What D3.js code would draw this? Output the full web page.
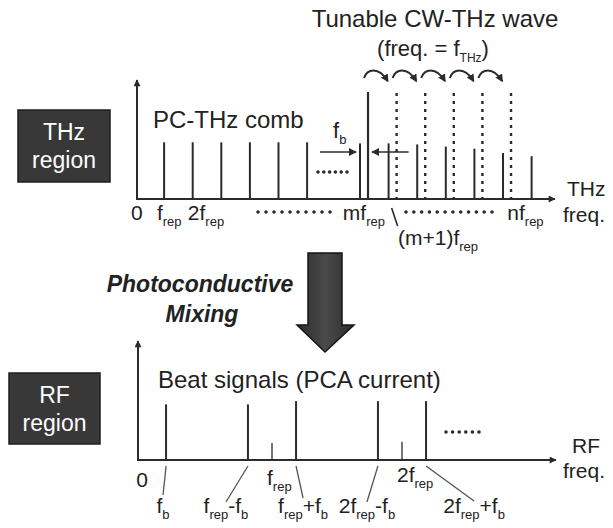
<!DOCTYPE html>
<html>
<head>
<meta charset="utf-8">
<script src="https://cdn.jsdelivr.net/npm/d3@7"></script>
<style>
  body { margin: 0; background: #fff; }
  text { font-family: "Liberation Sans", Arial, sans-serif; fill: #222; }
</style>
</head>
<body>
<div id="graph"></div>
<script>

// ---- data (positions in units of f_rep, amplitudes relative to CW line) ----

// THz comb lines: first six harmonics, then m, m+1, ... n (gap not to scale)
var combPos = [1, 2, 3, 4, 5, 6, 7.85, 8.85, 9.85, 10.85, 11.85, 12.85, 13.85];
var combAmp = [0.53, 0.53, 0.53, 0.53, 0.53, 0.53, 0.52, 0.52, 0.51, 0.49, 0.47, 0.43, 0.40];

// CW-THz wave: current position (solid) and tuned positions (dotted)
var cwPos = [8.13];
var cwAmp = [1.0];
var tunedPos = [9.13, 10.13, 11.13, 12.13, 13.13];
var tunedAmp = [0.99, 0.99, 0.99, 0.99, 0.99];

// THz axis labels
var thzLabels = [
  { x: 0.05, parts: ["0"], anchor: "middle" },
  { x: 0.75, parts: ["f", "_rep"], anchor: "start" },
  { x: 1.83, parts: ["2f", "_rep"], anchor: "start" },
  { x: 7.25, parts: ["mf", "_rep"], anchor: "start" },
  { x: 13.0, parts: ["nf", "_rep"], anchor: "start" }
];

// RF beat signals (PCA current)
var beatNames = ["f_b", "f_rep-f_b", "f_rep", "f_rep+f_b", "2f_rep-f_b", "2f_rep", "2f_rep+f_b"];
var beatPos = [0.185, 0.815, 1, 1.185, 1.815, 2, 2.185];
var beatAmp = [0.52, 0.52, 0.16, 0.55, 0.55, 0.17, 0.55];

// RF labels: leader-line end (dx, dy from the mark) and label parts
var beatLabels = [
  { i: 0, lead: [-3, 30], parts: ["f", "_b"], row: "low" },
  { i: 1, lead: [-22, 37], parts: ["f", "_rep", "-f", "_b"], row: "low" },
  { i: 2, lead: null, parts: ["f", "_rep"], row: "mid" },
  { i: 3, lead: [7, 33], parts: ["f", "_rep", "+f", "_b"], row: "low" },
  { i: 4, lead: [-11, 37], parts: ["2f", "_rep", "-f", "_b"], row: "low" },
  { i: 5, lead: null, parts: ["2f", "_rep"], row: "mid" },
  { i: 6, lead: [48, 36], parts: ["2f", "_rep", "+f", "_b"], row: "low" }
];


// ---- layout ----
var width = 613, height = 528;
var ink = "#2b2b2b";

var svg = d3.select("#graph").append("svg")
  .attr("width", width)
  .attr("height", height);

var defs = svg.append("defs");

defs.append("marker")
  .attr("id", "ah")
  .attr("viewBox", "0 0 10 10")
  .attr("refX", 9).attr("refY", 5)
  .attr("markerWidth", 5).attr("markerHeight", 5)
  .attr("markerUnits", "strokeWidth")
  .attr("orient", "auto")
  .append("path")
  .attr("d", "M0,0 L10,5 L0,10 Z")
  .attr("fill", ink);

defs.append("marker")
  .attr("id", "th")
  .attr("viewBox", "0 0 10 10")
  .attr("refX", 8).attr("refY", 5)
  .attr("markerWidth", 4).attr("markerHeight", 4)
  .attr("markerUnits", "strokeWidth")
  .attr("orient", "auto")
  .append("path")
  .attr("d", "M0,0 L10,5 L0,10 Z")
  .attr("fill", ink);

defs.append("marker")
  .attr("id", "axh")
  .attr("viewBox", "0 0 10 10")
  .attr("refX", 9).attr("refY", 5)
  .attr("markerWidth", 4).attr("markerHeight", 3.5)
  .attr("markerUnits", "strokeWidth")
  .attr("orient", "auto")
  .append("path")
  .attr("d", "M0,0 L10,5 L0,10 Z")
  .attr("fill", ink);

var grad = defs.append("linearGradient")
  .attr("id", "bigArrow")
  .attr("x1", "0%").attr("x2", "100%");
grad.append("stop").attr("offset", "0%").attr("stop-color", "#2c2c2c");
grad.append("stop").attr("offset", "50%").attr("stop-color", "#4a4a4a");
grad.append("stop").attr("offset", "100%").attr("stop-color", "#2c2c2c");


// text with subscripts: parts starting with "_" are subscripts
function label(g, x, y, parts, anchor, size, subSize) {
  size = size || 21;
  subSize = subSize || 13;
  var t = g.append("text")
    .attr("x", x).attr("y", y)
    .attr("text-anchor", anchor || "start")
    .attr("font-size", size);
  var inSub = false;
  parts.forEach(function(p) {
    var sub = p.charAt(0) == "_";
    var ts = t.append("tspan").text(sub ? p.slice(1) : p);
    if (sub) {
      ts.attr("font-size", subSize);
      if (!inSub) ts.attr("dy", 6);
    } else if (inSub) {
      ts.attr("dy", -6);
    }
    inSub = sub;
  });
  return t;
}

function regionBox(x, y, w, h, l1, l2) {
  var g = svg.append("g");
  g.append("rect")
    .attr("x", x).attr("y", y)
    .attr("width", w).attr("height", h)
    .attr("fill", "#383838")
    .attr("stroke", "#1e1e1e").attr("stroke-width", 1.5);
  g.append("text").attr("x", x + w / 2).attr("y", y + 30)
    .attr("text-anchor", "middle").attr("font-size", 23)
    .style("fill", "#fff").text(l1);
  g.append("text").attr("x", x + w / 2).attr("y", y + 58)
    .attr("text-anchor", "middle").attr("font-size", 23)
    .style("fill", "#fff").text(l2);
}

function dots(g, x0, x1, y, n) {
  var xs = d3.range(n).map(function(i) { return x0 + (x1 - x0) * i / (n - 1); });
  g.selectAll(null).data(xs).enter().append("circle")
    .attr("cx", function(d) { return d; })
    .attr("cy", y)
    .attr("r", 1.8)
    .attr("fill", ink);
}


// ================= THz region =================
regionBox(18, 110, 92, 72, "THz", "region");

var xT = d3.scaleLinear().domain([0, 14]).range([135.5, 135.5 + 28.6 * 14]);
var yT = d3.scaleLinear().domain([0, 1]).range([199, 92]);

var thz = svg.append("g").attr("class", "thz");

// axes
thz.append("line")
  .attr("x1", 137).attr("y1", yT(0) + 1)
  .attr("x2", 137).attr("y2", 80)
  .attr("stroke", ink).attr("stroke-width", 2)
  .attr("marker-end", "url(#axh)");
thz.append("line")
  .attr("x1", 136).attr("y1", yT(0))
  .attr("x2", 555).attr("y2", yT(0))
  .attr("stroke", ink).attr("stroke-width", 2)
  .attr("marker-end", "url(#axh)");

// comb lines
thz.selectAll("line.comb")
  .data(combPos)
  .enter().append("line")
  .attr("class", "comb")
  .attr("x1", function(d) { return xT(d); })
  .attr("x2", function(d) { return xT(d); })
  .attr("y1", yT(0))
  .attr("y2", function(d, i) { return yT(combAmp[i]); })
  .attr("stroke", ink).attr("stroke-width", 2);

// CW line
thz.selectAll("line.cw")
  .data(cwPos)
  .enter().append("line")
  .attr("class", "cw")
  .attr("x1", function(d) { return xT(d); })
  .attr("x2", function(d) { return xT(d); })
  .attr("y1", yT(0))
  .attr("y2", function(d, i) { return yT(cwAmp[i]); })
  .attr("stroke", ink).attr("stroke-width", 2.2);

// tuned CW positions (dotted)
thz.selectAll("line.tuned")
  .data(tunedPos)
  .enter().append("line")
  .attr("class", "tuned")
  .attr("x1", function(d) { return xT(d); })
  .attr("x2", function(d) { return xT(d); })
  .attr("y1", function(d, i) { return yT(tunedAmp[i]); })
  .attr("y2", yT(0))
  .attr("stroke", ink).attr("stroke-width", 2.4)
  .attr("stroke-dasharray", "3,5");

// tuning arrows
var steps = cwPos.concat(tunedPos);
thz.selectAll("path.tune")
  .data(d3.range(steps.length - 1))
  .enter().append("path")
  .attr("class", "tune")
  .attr("d", function(i) {
    var a = xT(steps[i]) - 4, b = xT(steps[i + 1]) - 9;
    return "M" + a + ",78 C" + (a + 3) + ",69 " + (b - 9) + ",66 " + b + ",81";
  })
  .attr("fill", "none")
  .attr("stroke", ink).attr("stroke-width", 2)
  .attr("marker-end", "url(#th)");

// f_b arrows (between m f_rep and CW line)
var fbY = 152;
thz.append("line")
  .attr("x1", xT(combPos[6]) - 40).attr("y1", fbY)
  .attr("x2", xT(combPos[6]) - 4).attr("y2", fbY)
  .attr("stroke", ink).attr("stroke-width", 1.6)
  .attr("marker-end", "url(#ah)");
thz.append("line")
  .attr("x1", xT(combPos[7]) + 20).attr("y1", fbY)
  .attr("x2", xT(cwPos[0]) + 4).attr("y2", fbY)
  .attr("stroke", ink).attr("stroke-width", 1.6)
  .attr("marker-end", "url(#ah)");
label(thz, xT(combPos[6]) - 27, 138, ["f", "_b"], "start", 22, 13);

dots(thz, 318, 347, 172, 6);

// THz texts
thz.append("text").attr("x", 153).attr("y", 128)
  .attr("font-size", 24).text("PC-THz comb");
thz.append("text").attr("x", 435).attr("y", 27)
  .attr("text-anchor", "middle").attr("font-size", 24)
  .text("Tunable CW-THz wave");
label(thz, 433, 56, ["(freq. = f", "_THz", ")"], "middle", 22, 12);

// axis labels
thzLabels.forEach(function(d) {
  label(thz, xT(d.x), 220, d.parts, d.anchor, 21, 13);
});
dots(thz, 258, 330, 212, 10);
dots(thz, 406, 492, 212, 12);
thz.append("line")
  .attr("x1", xT(combPos[7]) + 3).attr("y1", 208)
  .attr("x2", xT(combPos[7]) + 9).attr("y2", 226)
  .attr("stroke", ink).attr("stroke-width", 1.6);
label(thz, 438, 245, ["(m+1)f", "_rep"], "middle", 21, 13);
thz.append("text").attr("x", 567).attr("y", 196).attr("font-size", 21).text("THz");
thz.append("text").attr("x", 563).attr("y", 222).attr("font-size", 21).text("freq.");


// ================= mixing arrow =================
var mid = svg.append("g");
mid.append("path")
  .attr("d", "M308,253 L342,253 L342,325 L354,325 L325,352 L297,325 L308,325 Z")
  .attr("fill", "url(#bigArrow)")
  .attr("stroke", "#151515").attr("stroke-width", 1.5);
mid.append("text").attr("x", 200).attr("y", 292)
  .attr("text-anchor", "middle").attr("font-size", 23)
  .attr("font-weight", "bold").attr("font-style", "italic")
  .text("Photoconductive");
mid.append("text").attr("x", 202).attr("y", 322)
  .attr("text-anchor", "middle").attr("font-size", 23)
  .attr("font-weight", "bold").attr("font-style", "italic")
  .text("Mixing");


// ================= RF region =================
regionBox(9, 373, 91, 71, "RF", "region");

var xR = d3.scaleLinear().domain([0, 2]).range([142, 402]);
var yR = d3.scaleLinear().domain([0, 1]).range([460, 353]);

var rf = svg.append("g").attr("class", "rf");

rf.append("line")
  .attr("x1", 138).attr("y1", yR(0) + 1)
  .attr("x2", 138).attr("y2", 341)
  .attr("stroke", ink).attr("stroke-width", 2)
  .attr("marker-end", "url(#axh)");
rf.append("line")
  .attr("x1", 137).attr("y1", yR(0))
  .attr("x2", 556).attr("y2", yR(0))
  .attr("stroke", ink).attr("stroke-width", 2)
  .attr("marker-end", "url(#axh)");

rf.selectAll("line.beat")
  .data(beatPos)
  .enter().append("line")
  .attr("class", "beat")
  .attr("x1", function(d) { return xR(d); })
  .attr("x2", function(d) { return xR(d); })
  .attr("y1", yR(0))
  .attr("y2", function(d, i) { return yR(beatAmp[i]); })
  .attr("stroke", ink)
  .attr("stroke-width", function(d, i) { return beatAmp[i] > 0.3 ? 2 : 1.3; });

rf.append("text").attr("x", 158).attr("y", 388)
  .attr("font-size", 24).text("Beat signals (PCA current)");

label(rf, xR(0), 487, ["0"], "middle", 21, 13);

beatLabels.forEach(function(d) {
  var x = xR(beatPos[d.i]);
  if (d.row == "mid") {
    label(rf, x - 5, d.i == 2 ? 485 : 482, d.parts, "start", 21, 13);
    return;
  }
  var ex = x + d.lead[0], ey = yR(0) + 5 + d.lead[1];
  rf.append("line")
    .attr("x1", x).attr("y1", yR(0) + 6)
    .attr("x2", ex).attr("y2", ey)
    .attr("stroke", "#555").attr("stroke-width", 1.3);
  label(rf, ex, 513, d.parts, "middle", 21, 13);
});

dots(rf, 446, 479, 432, 6);

rf.append("text").attr("x", 572).attr("y", 453).attr("font-size", 21).text("RF");
rf.append("text").attr("x", 563).attr("y", 478).attr("font-size", 21).text("freq.");

</script>
</body>
</html>
